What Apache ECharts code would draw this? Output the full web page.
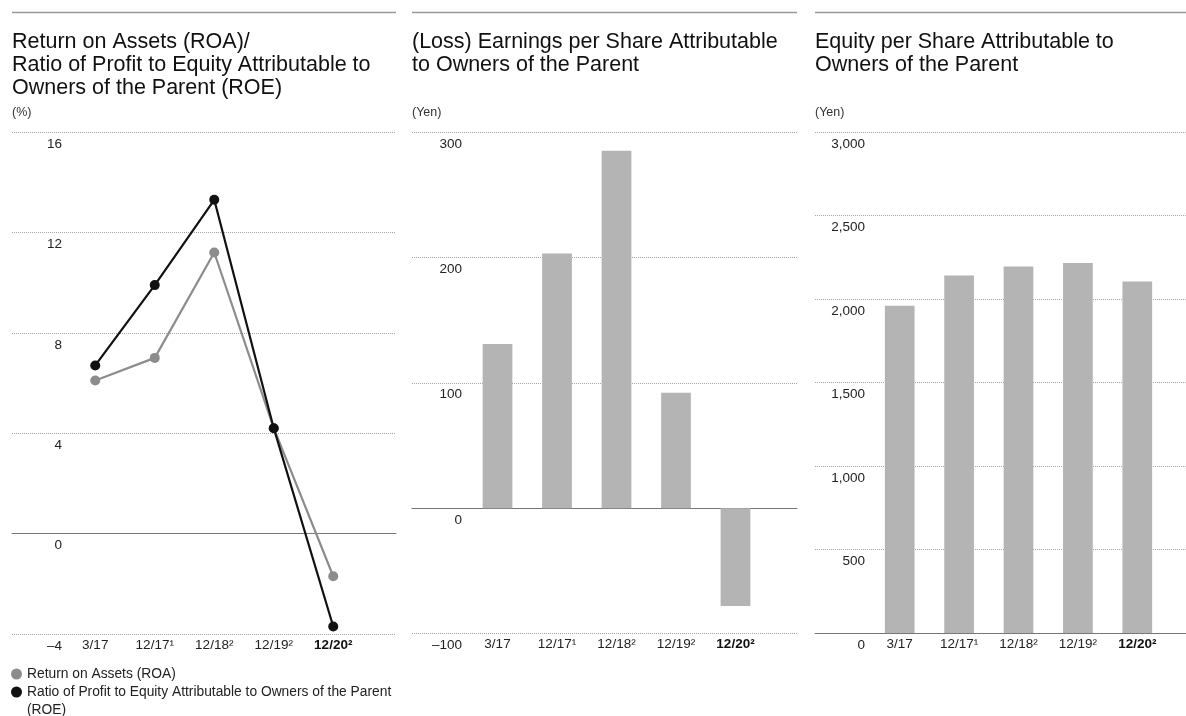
<!DOCTYPE html>
<html>
<head>
<meta charset="utf-8">
<script src="https://cdn.jsdelivr.net/npm/echarts@6/dist/echarts.min.js"></script>
<style>
html,body{margin:0;padding:0;background:#fff;}
#chart{width:1186px;height:716px;}
</style>
</head>
<body>
<div id="chart"></div>
<script>
// ---- data ----
const categories = ['3/17', '12/17¹', '12/18²', '12/19²', '12/20²'];
const roaValues = [6.1, 7.0, 11.2, 4.2, -1.7];
const roeValues = [6.7, 9.9, 13.3, 4.2, -3.7];
const epsValues = [131, 203, 285, 92, -78];
const bpsValues = [1960, 2140, 2195, 2215, 2105];
const pctAxis = { min: -4, max: 16, interval: 4 };
const epsAxis = { min: -100, max: 300, interval: 100 };
const bpsAxis = { min: 0, max: 3000, interval: 500 };
const titles = [
  'Return on Assets (ROA)/\nRatio of Profit to Equity Attributable to\nOwners of the Parent (ROE)',
  '(Loss) Earnings per Share Attributable\nto Owners of the Parent',
  'Equity per Share Attributable to\nOwners of the Parent'
];
const units = ['(%)', '(Yen)', '(Yen)'];
const seriesNames = ['Return on Assets (ROA)', 'Ratio of Profit to Equity Attributable to Owners of the Parent (ROE)'];

// ---- styling ----
const FONT = '"Liberation Sans", Arial, Helvetica, sans-serif';
const TXT = '#222';
const catData = categories.map((c, i) => i === categories.length - 1
  ? { value: c, textStyle: { fontWeight: 'bold', color: '#111' } } : c);

function fmt(v) {
  const s = Math.abs(v).toLocaleString('en-US');
  return v < 0 ? '\u2013' + s : s;
}

const panels = [
  { bg: { left: 12, width: 384 }, data: { left: 65.5, width: 297.5 }, axis: pctAxis, top: 132, height: 502 },
  { bg: { left: 412, width: 385 }, data: { left: 467.75, width: 297.5 }, axis: epsAxis, top: 132, height: 501.5 },
  { bg: { left: 815, width: 371 }, data: { left: 870, width: 297 }, axis: bpsAxis, top: 132, height: 501 }
];

const grid = [], xAxis = [], yAxis = [];
panels.forEach((p, i) => {
  grid.push({ left: p.bg.left, width: p.bg.width, top: p.top, height: p.height, containLabel: false });
  grid.push({ left: p.data.left, width: p.data.width, top: p.top, height: p.height, containLabel: false });
  // background axes (gridlines, zero line, y labels)
  xAxis.push({
    type: 'value', gridIndex: 2 * i, min: 0, max: 1,
    axisLine: { show: true, onZero: true, lineStyle: { color: '#777', width: 1 } },
    axisTick: { show: false }, axisLabel: { show: false }, splitLine: { show: false }
  });
  yAxis.push({
    type: 'value', gridIndex: 2 * i, min: p.axis.min, max: p.axis.max, interval: p.axis.interval,
    axisLine: { show: false }, axisTick: { show: false },
    splitLine: { show: true, lineStyle: { type: 'dotted', color: '#a5a5a5', width: 1 } },
    axisLabel: {
      inside: true, margin: 50, align: 'right', verticalAlign: 'top', padding: [5, 0, 0, 0],
      fontFamily: FONT, fontSize: 13.5, color: TXT, formatter: fmt
    }
  });
  // data axes
  xAxis.push({
    type: 'category', gridIndex: 2 * i + 1, data: catData, boundaryGap: true,
    axisLine: { show: false, onZero: false }, axisTick: { show: false }, splitLine: { show: false },
    axisLabel: { margin: 4, fontFamily: FONT, fontSize: 13.5, color: TXT, interval: 0 }
  });
  yAxis.push({
    type: 'value', gridIndex: 2 * i + 1, min: p.axis.min, max: p.axis.max, interval: p.axis.interval,
    show: false, splitLine: { show: false }
  });
});

const titleComps = [];
const titleX = [12, 412, 815];
titles.forEach((t, i) => {
  titleComps.push({
    text: t, left: titleX[i], top: 31, padding: 0,
    textStyle: { fontFamily: FONT, fontSize: 21.5, fontWeight: 'normal', color: '#111', lineHeight: 23 }
  });
  titleComps.push({
    text: units[i], left: titleX[i], top: 106, padding: 0,
    textStyle: { fontFamily: FONT, fontSize: 12.5, fontWeight: 'normal', color: '#333' }
  });
});

const rules = [[12, 396], [412, 797], [815, 1186]].map(r => ({
  type: 'line', shape: { x1: r[0], y1: 12.5, x2: r[1], y2: 12.5 },
  style: { stroke: '#999', lineWidth: 1.5 }, silent: true
}));

const legendBase = {
  orient: 'vertical', left: 11, padding: 0, itemGap: 0,
  icon: 'circle', itemWidth: 11, itemHeight: 11,
  textStyle: { fontFamily: FONT, fontSize: 13.8, color: TXT, lineHeight: 18 }
};

const option = {
  backgroundColor: '#fff',
  animation: false,
  textStyle: { fontFamily: FONT },
  title: titleComps,
  graphic: rules,
  grid, xAxis, yAxis,
  legend: [
    Object.assign({}, legendBase, { top: 665, data: [seriesNames[0]] }),
    Object.assign({}, legendBase, {
      top: 665, data: [seriesNames[1]],
      // first line aligned with the marker, "(ROE)" wrapped below
      formatter: n => '\n' + n.replace(' (ROE)', '\n(ROE)')
    })
  ],
  series: [
    {
      name: seriesNames[0], type: 'line', xAxisIndex: 1, yAxisIndex: 1, data: roaValues,
      symbol: 'circle', symbolSize: 10, color: '#8c8c8c',
      lineStyle: { width: 2.2, color: '#8c8c8c' }, itemStyle: { color: '#8c8c8c' }, z: 3
    },
    {
      name: seriesNames[1], type: 'line', xAxisIndex: 1, yAxisIndex: 1, data: roeValues,
      symbol: 'circle', symbolSize: 10, color: '#111',
      lineStyle: { width: 2.2, color: '#111' }, itemStyle: { color: '#111' }, z: 4
    },
    {
      name: 'EPS', type: 'bar', xAxisIndex: 3, yAxisIndex: 3, data: epsValues,
      barWidth: '50%', itemStyle: { color: '#b4b4b4' }
    },
    {
      name: 'BPS', type: 'bar', xAxisIndex: 5, yAxisIndex: 5, data: bpsValues,
      barWidth: '50%', itemStyle: { color: '#b4b4b4' }
    }
  ]
};

const chart = echarts.init(document.getElementById('chart'), null, { renderer: 'canvas' });
chart.setOption(option);
</script>
</body>
</html>
